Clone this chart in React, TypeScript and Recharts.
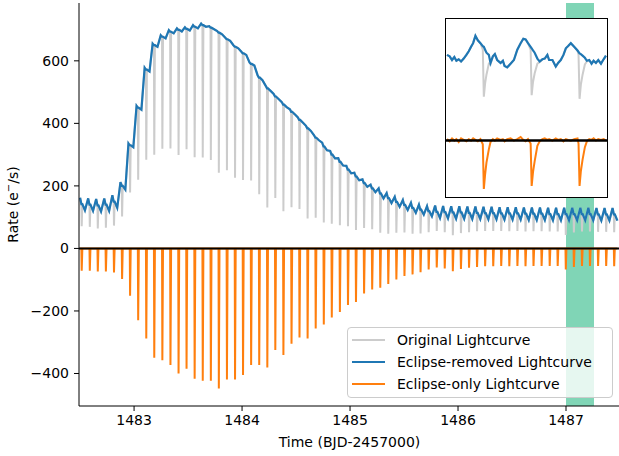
import React from "react";
import {
  LineChart,
  Line,
  XAxis,
  YAxis,
  CartesianGrid,
  ReferenceLine,
  Legend,
  Label,
} from "recharts";

// mid-eclipse times (BJD-2457000), one per orbit
const eclipseTimes = [
  1482.515, 1482.59, 1482.664, 1482.739, 1482.814, 1482.889, 1482.963, 1483.038,
  1483.113, 1483.187, 1483.262, 1483.337, 1483.412, 1483.486, 1483.561, 1483.636,
  1483.711, 1483.785, 1483.86, 1483.935, 1484.009, 1484.084, 1484.159, 1484.234,
  1484.308, 1484.383, 1484.458, 1484.532, 1484.607, 1484.682, 1484.757, 1484.831,
  1484.906, 1484.981, 1485.055, 1485.13, 1485.205, 1485.28, 1485.354, 1485.429,
  1485.504, 1485.579, 1485.653, 1485.728, 1485.803, 1485.877, 1485.952, 1486.027,
  1486.102, 1486.176, 1486.251, 1486.326, 1486.4, 1486.475, 1486.55, 1486.625,
  1486.699, 1486.774, 1486.849, 1486.923, 1486.998, 1487.073, 1487.148, 1487.222,
  1487.297, 1487.372, 1487.446,
];

// eclipse-removed rate at each eclipse (e-/s)
const baseRate = [
  142, 140, 138, 140, 150, 200, 330, 450, 572, 650, 677, 693, 699, 702, 709, 714,
  706, 690, 669, 645, 624, 590, 546, 512, 486, 460, 437, 411, 384, 354, 326, 300,
  277, 252, 230, 209, 192, 176, 161, 149, 139, 130, 124, 119, 117, 116, 115, 115,
  114, 114, 113, 113, 112, 112, 112, 111, 111, 111, 110, 110, 110, 110, 110, 110,
  109, 109, 109,
];

// eclipse-only rate at mid-eclipse
const eclipseDepth = [
  -71, -71, -74, -74, -77, -98, -151, -230, -288, -350, -358, -373, -400, -385, -417, -423,
  -423, -448, -419, -419, -405, -373, -373, -381, -325, -341, -305, -285, -288, -256, -243, -221,
  -203, -181, -171, -144, -131, -126, -114, -99, -88, -83, -76, -67, -61, -64, -73, -66,
  -62, -59, -57, -57, -56, -57, -56, -57, -56, -56, -56, -56, -67, -59, -56, -56,
  -56, -56, -57,
];

// half height of the orbital hump before each eclipse
const humpAmp = [
  20, 20, 20, 20, 20, 12, 6, 6, 6, 5, 5, 5, 5, 5, 5, 5,
  5, 5, 5, 5, 5, 5, 8, 8, 8, 8, 8, 8, 8, 8, 12, 12,
  12, 12, 12, 12, 12, 16, 16, 16, 16, 16, 16, 16, 20, 20, 20, 20,
  20, 20, 20, 20, 20, 20, 20, 20, 20, 20, 20, 20, 20, 20, 20, 20,
  20, 20, 20,
];

// inset: zoom on the shaded interval
const insetTime = [
  1487.016, 1487.0202, 1487.0239, 1487.0275, 1487.0307, 1487.0343, 1487.038, 1487.0421,
  1487.0463, 1487.05, 1487.0536, 1487.0568, 1487.0604, 1487.0641, 1487.0682, 1487.0719,
  1487.0735, 1487.0755, 1487.0776, 1487.0813, 1487.0839, 1487.0876, 1487.0907, 1487.0943,
  1487.0996, 1487.1032, 1487.1058, 1487.11, 1487.1152, 1487.1204, 1487.1257, 1487.1309,
  1487.1351, 1487.1387, 1487.1424, 1487.1465, 1487.1481, 1487.1502, 1487.1528, 1487.157,
  1487.1606, 1487.1648, 1487.1685, 1487.1726, 1487.1753, 1487.1805, 1487.1857, 1487.1894,
  1487.1935, 1487.1977, 1487.2014, 1487.205, 1487.2092, 1487.2144, 1487.2196, 1487.2212,
  1487.2228, 1487.2248, 1487.2275, 1487.2311, 1487.2342, 1487.2379, 1487.2415, 1487.2447,
  1487.2483, 1487.252, 1487.2562, 1487.2603, 1487.264,
];
const insetRemoved = [
  117, 115, 110, 114, 109, 111, 108, 112, 117, 122, 128, 133, 143, 137, 133, 129,
  128, 124, 120, 117, 106, 115, 118, 110, 106, 109, 102, 100, 105, 110, 124, 133,
  139, 138, 133, 128, 126, 123, 120, 112, 108, 111, 112, 117, 110, 110, 101, 106,
  110, 117, 126, 129, 133, 128, 123, 121, 119, 118, 116, 113, 109, 110, 105, 109,
  106, 110, 105, 111, 116,
];
const insetOriginal = [
  117, 115, 110, 114, 109, 111, 108, 112, 117, 122, 128, 133, 143, 137, 133, 124,
  60, 78, 90, 105, 104, 115, 118, 110, 106, 109, 102, 100, 105, 110, 124, 133,
  139, 138, 133, 124, 62, 80, 92, 105, 107, 111, 112, 117, 110, 110, 101, 106,
  110, 117, 126, 129, 133, 128, 123, 117, 57, 76, 90, 104, 108, 110, 105, 109,
  106, 110, 105, 111, 116,
];
const insetEclipse = [
  2, -1, 3, 0, 2, -2, 3, 1, -1, 2, 0, 3, 1, -1, 2, -5,
  -66, -46, -30, -12, -2, 2, 0, 3, 1, 2, -1, 2, 3, 0, 2, 5,
  1, -1, 2, -4, -62, -43, -28, -7, -1, 2, 3, 1, 2, 0, 3, 1,
  2, -1, 2, 1, 0, 2, 3, -4, -62, -42, -26, -9, -1, 2, 1, 3,
  0, 2, 1, 2, 0,
];

// shaded interval shown in the inset
const zoomStart = 1487.0;
const zoomEnd = 1487.26;

const seriesNames = ["Original Lightcurve", "Eclipse-removed Lightcurve", "Eclipse-only Lightcurve"];
const xTicks = [1483, 1484, 1485, 1486, 1487];
const yTicks = [-400, -200, 0, 200, 400, 600];

const GREY = "#cccccc";
const BLUE = "#1f77b4";
const ORANGE = "#ff7f0e";
const BAND = "#80d5b6";
const FONT = "DejaVu Sans, sans-serif";
const X_DOMAIN = [1482.49, 1487.5];
const Y_DOMAIN = [-504, 785];

const mainData = eclipseTimes.flatMap((t, i) => {
  const b = baseRate[i];
  const a = humpAmp[i];
  const d = eclipseDepth[i];
  return [
    { time: t - 0.015, original: b + a, removed: b + a, eclipse: 0 },
    { time: t - 0.003, original: b, removed: b, eclipse: 0 },
    { time: t, original: b + d, removed: b, eclipse: d },
    { time: t + 0.006, original: b, removed: b, eclipse: 0 },
    { time: t + 0.03, original: b - a, removed: b - a, eclipse: 0 },
  ];
});

const insetData = insetTime.map((t, i) => ({
  time: t,
  original: insetOriginal[i],
  removed: insetRemoved[i],
  eclipse: insetEclipse[i],
}));

const minus = (v: number) => String(v).replace("-", "\u2212");

// grid stripe edges (plot left, band start, band end) so the band sits under the lines
const bandEdges = (props: any) => {
  const off = props && props.offset ? props.offset : { left: 79, width: 541 };
  const linear = (v: number) =>
    off.left + ((v - X_DOMAIN[0]) / (X_DOMAIN[1] - X_DOMAIN[0])) * off.width;
  let toPx = linear;
  try {
    const s = props && props.xAxis ? props.xAxis.scale : null;
    if (typeof s === "function") toPx = (v: number) => s(v);
    else if (s && typeof s.map === "function") toPx = (v: number) => s.map(v);
    const a = toPx(zoomStart);
    const b = toPx(zoomEnd);
    if (!Number.isFinite(a) || !Number.isFinite(b)) toPx = linear;
  } catch (e) {
    toPx = linear;
  }
  return [off.left, toPx(zoomStart), toPx(zoomEnd)];
};

function LegendBox(props: any) {
  const items = (props.payload || [])
    .filter((it: any) => seriesNames.includes(it.value))
    .sort((a: any, b: any) => seriesNames.indexOf(a.value) - seriesNames.indexOf(b.value));
  return (
    <div
      style={{
        boxSizing: "border-box",
        width: 266,
        height: 71,
        border: "1px solid #cccccc",
        borderRadius: 4,
        background: "rgba(255,255,255,0.8)",
        padding: "1px 0 0 4px",
        fontFamily: FONT,
        fontSize: 14,
        color: "#000",
      }}
    >
      {items.map((it: any) => (
        <div key={it.value} style={{ height: 22, display: "flex", alignItems: "center" }}>
          <span style={{ width: 33, height: 2, background: it.color, marginRight: 12 }} />
          <span>{it.value}</span>
        </div>
      ))}
    </div>
  );
}

function YLabel(props: any) {
  const vb = props.viewBox || { x: 0, y: 0, width: 0, height: 0 };
  const cx = vb.x + 13;
  const cy = vb.y + vb.height / 2;
  return (
    <text
      x={cx}
      y={cy}
      transform={`rotate(-90, ${cx}, ${cy})`}
      textAnchor="middle"
      dominantBaseline="central"
      fontFamily={FONT}
      fontSize={14}
      fill="#000"
    >
      Rate (e
      <tspan dy={-5} fontSize={10}>
        {"\u2212"}
      </tspan>
      <tspan dy={5}>/s)</tspan>
    </text>
  );
}

function XLabel(props: any) {
  const vb = props.viewBox || { x: 0, y: 0, width: 0, height: 0 };
  return (
    <text
      x={vb.x + vb.width / 2}
      y={vb.y + 41}
      textAnchor="middle"
      fontFamily={FONT}
      fontSize={14}
      fill="#000"
    >
      Time (BJD-2457000)
    </text>
  );
}

function Inset() {
  return (
    <div
      style={{
        position: "absolute",
        left: 445,
        top: 18,
        width: 161,
        height: 178,
        border: "1px solid #000",
        background: "#fff",
      }}
    >
      <LineChart width={161} height={178} data={insetData} margin={{ top: 0, right: 0, bottom: 0, left: 0 }}>
        <XAxis dataKey="time" type="number" domain={[1487.0145, 1487.2656]} hide />
        <YAxis type="number" domain={[-77, 166]} hide />
        <Line dataKey="original" stroke={GREY} strokeWidth={2} dot={false} activeDot={false} isAnimationActive={false} />
        <Line dataKey="removed" stroke={BLUE} strokeWidth={2.2} dot={false} activeDot={false} isAnimationActive={false} />
        <Line dataKey="eclipse" stroke={ORANGE} strokeWidth={2} dot={false} activeDot={false} isAnimationActive={false} />
        <ReferenceLine y={0} stroke="#000" strokeWidth={2.5} />
      </LineChart>
    </div>
  );
}

export default function App() {
  return (
    <div
      style={{
        position: "absolute",
        left: 0,
        top: 0,
        width: 619,
        height: 456,
        overflow: "hidden",
        background: "#fff",
        fontFamily: FONT,
      }}
    >
      <LineChart
        width={625}
        height={456}
        data={mainData}
        margin={{ top: 3, right: 5, bottom: 0, left: 0 }}
      >
        <CartesianGrid
          horizontal={false}
          stroke="transparent"
          verticalCoordinatesGenerator={bandEdges}
          verticalFill={["transparent", BAND]}
          fillOpacity={1}
        />
        <XAxis
          dataKey="time"
          type="number"
          domain={X_DOMAIN}
          ticks={xTicks}
          height={50}
          tickSize={5}
          tickMargin={4}
          stroke="#000"
          tick={{ fill: "#000", fontSize: 14, fontFamily: FONT }}
        >
          <Label content={<XLabel />} />
        </XAxis>
        <XAxis
          xAxisId="top"
          orientation="top"
          type="number"
          domain={X_DOMAIN}
          height={0}
          tick={false}
          tickLine={false}
          stroke="#000"
        />
        <YAxis
          type="number"
          domain={Y_DOMAIN}
          ticks={yTicks}
          width={79}
          tickSize={5}
          tickMargin={5}
          stroke="#000"
          tickFormatter={minus}
          tick={{ fill: "#000", fontSize: 14, fontFamily: FONT }}
        >
          <Label content={<YLabel />} />
        </YAxis>
        <Line name="Original Lightcurve" dataKey="original" stroke={GREY} strokeWidth={2} dot={false} activeDot={false} isAnimationActive={false} />
        <Line name="Eclipse-removed Lightcurve" dataKey="removed" stroke={BLUE} strokeWidth={2.2} dot={false} activeDot={false} isAnimationActive={false} />
        <Line name="Eclipse-only Lightcurve" dataKey="eclipse" stroke={ORANGE} strokeWidth={2} dot={false} activeDot={false} isAnimationActive={false} />
        <ReferenceLine y={0} stroke="#000" strokeWidth={2} />
        <Legend
          layout="horizontal"
          verticalAlign="middle"
          align="center"
          content={<LegendBox />}
          wrapperStyle={{ left: 347, top: 327, width: 266, height: 71 }}
        />
      </LineChart>
      <Inset />
    </div>
  );
}
